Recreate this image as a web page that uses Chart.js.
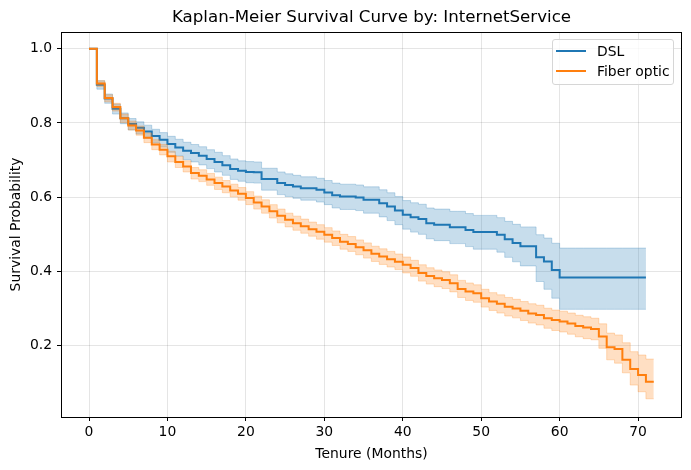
<!DOCTYPE html>
<html>
<head>
<meta charset="utf-8">
<script src="https://cdn.jsdelivr.net/npm/chart.js@4.4.1/dist/chart.umd.min.js"></script>
<style>
    body { margin: 0; background: #fff; }
    #wrap { position: relative; width: 691px; height: 470px; }
    #kmTitle {
        position: absolute; left: 61px; top: 7px; width: 621px; height: 20px; line-height: 20px;
        text-align: center; font-family: "DejaVu Sans", sans-serif; font-size: 16.67px; color: #000;
        white-space: nowrap;
    }
    #kmLegend {
        position: absolute; left: 552px; top: 39px; width: 122px; height: 46px;
        box-sizing: border-box; border: 1px solid #d6d6d6; border-radius: 3px;
        background: rgba(255, 255, 255, 0.8);
        font-family: "DejaVu Sans", sans-serif; font-size: 13.9px; color: #000;
    }
    .km-item { position: absolute; left: 3px; height: 20px; display: flex; align-items: center; white-space: nowrap; }
    .km-swatch { flex: none; display: block; width: 30px; height: 2px; margin-right: 11px; }
</style>
</head>
<body>
<div id="wrap">
    <canvas id="kmChart" width="691" height="470"></canvas>
    <div id="kmTitle"></div>
    <div id="kmLegend"></div>
</div>
<script>
const km_title = 'Kaplan-Meier Survival Curve by: InternetService';
const km_xLabel = 'Tenure (Months)';
const km_yLabel = 'Survival Probability';
const km_seriesNames = ['DSL', 'Fiber optic'];
const km_colors = ['#1f77b4', '#ff7f0e'];
const km_bandColors = ['rgba(31,119,180,0.25)', 'rgba(255,127,14,0.25)'];

const km_xTicks = [0, 10, 20, 30, 40, 50, 60, 70];
const km_yTicks = [0.2, 0.4, 0.6, 0.8, 1.0];

const km_months = [0, 1, 2, 3, 4, 5, 6, 7, 8, 9, 10, 11, 12, 13, 14, 15, 16, 17, 18, 19, 20,
    21, 22, 23, 24, 25, 26, 27, 28, 29, 30, 31, 32, 33, 34, 35, 36, 37, 38, 39, 40,
    41, 42, 43, 44, 45, 46, 47, 48, 49, 50, 51, 52, 53, 54, 55, 56, 57, 58, 59, 60,
    61, 62, 63, 64, 65, 66, 67, 68, 69, 70, 71, 72];

// DSL: months 0..71
const km_dsl = [1.0, 0.903, 0.866, 0.838, 0.813, 0.797, 0.787, 0.777, 0.765, 0.755,
    0.743, 0.734, 0.725, 0.719, 0.712, 0.703, 0.695, 0.686, 0.676, 0.671,
    0.668, 0.667, 0.649, 0.649, 0.638, 0.633, 0.629, 0.624, 0.624, 0.620,
    0.613, 0.605, 0.602, 0.602, 0.599, 0.593, 0.593, 0.584, 0.575, 0.564,
    0.553, 0.546, 0.541, 0.530, 0.526, 0.526, 0.519, 0.519, 0.512, 0.506,
    0.506, 0.506, 0.499, 0.487, 0.477, 0.468, 0.468, 0.438, 0.427, 0.404,
    0.384, 0.384, 0.384, 0.384, 0.384, 0.384, 0.384, 0.384, 0.384, 0.384,
    0.384, 0.384];
const km_dslLower = [1.0, 0.891, 0.853, 0.824, 0.798, 0.781, 0.770, 0.759, 0.746, 0.735,
    0.721, 0.711, 0.701, 0.695, 0.687, 0.677, 0.668, 0.659, 0.648, 0.643,
    0.639, 0.638, 0.619, 0.619, 0.607, 0.602, 0.597, 0.592, 0.592, 0.587,
    0.580, 0.571, 0.567, 0.567, 0.564, 0.557, 0.557, 0.547, 0.537, 0.526,
    0.514, 0.506, 0.500, 0.488, 0.483, 0.483, 0.475, 0.475, 0.467, 0.460,
    0.460, 0.460, 0.452, 0.438, 0.426, 0.415, 0.415, 0.373, 0.352, 0.328,
    0.298, 0.298, 0.298, 0.298, 0.298, 0.298, 0.298, 0.298, 0.298, 0.298,
    0.298, 0.298];
const km_dslUpper = [1.0, 0.914, 0.878, 0.851, 0.827, 0.812, 0.803, 0.794, 0.783, 0.774,
    0.764, 0.756, 0.748, 0.742, 0.736, 0.728, 0.721, 0.712, 0.703, 0.698,
    0.696, 0.695, 0.678, 0.678, 0.668, 0.663, 0.659, 0.655, 0.655, 0.651,
    0.645, 0.638, 0.635, 0.635, 0.633, 0.628, 0.628, 0.620, 0.612, 0.602,
    0.591, 0.585, 0.581, 0.571, 0.568, 0.568, 0.562, 0.562, 0.556, 0.551,
    0.551, 0.551, 0.545, 0.535, 0.527, 0.520, 0.520, 0.499, 0.490, 0.476,
    0.463, 0.463, 0.463, 0.463, 0.463, 0.463, 0.463, 0.463, 0.463, 0.463,
    0.463, 0.463];

// Fiber optic: months 0..72
const km_fiber = [1.0, 0.906, 0.867, 0.843, 0.813, 0.793, 0.780, 0.760, 0.742, 0.728,
    0.710, 0.695, 0.683, 0.665, 0.658, 0.648, 0.638, 0.629, 0.618, 0.609,
    0.598, 0.586, 0.575, 0.562, 0.550, 0.539, 0.530, 0.522, 0.514, 0.507,
    0.499, 0.490, 0.480, 0.474, 0.465, 0.457, 0.448, 0.440, 0.433, 0.426,
    0.418, 0.409, 0.396, 0.388, 0.382, 0.377, 0.368, 0.353, 0.346, 0.341,
    0.328, 0.319, 0.313, 0.305, 0.300, 0.294, 0.287, 0.283, 0.274, 0.269,
    0.265, 0.260, 0.253, 0.249, 0.245, 0.225, 0.196, 0.191, 0.162, 0.137,
    0.121, 0.103, 0.103];
const km_fiberLower = [1.0, 0.898, 0.857, 0.832, 0.801, 0.781, 0.767, 0.747, 0.728, 0.714,
    0.695, 0.680, 0.668, 0.649, 0.642, 0.632, 0.621, 0.612, 0.601, 0.592,
    0.580, 0.568, 0.557, 0.544, 0.531, 0.520, 0.511, 0.503, 0.495, 0.487,
    0.479, 0.470, 0.460, 0.454, 0.445, 0.436, 0.427, 0.419, 0.412, 0.405,
    0.396, 0.387, 0.374, 0.366, 0.359, 0.354, 0.345, 0.330, 0.322, 0.317,
    0.304, 0.295, 0.288, 0.280, 0.275, 0.268, 0.261, 0.256, 0.247, 0.241,
    0.237, 0.231, 0.224, 0.219, 0.216, 0.193, 0.162, 0.153, 0.127, 0.094,
    0.076, 0.057, 0.057];
const km_fiberUpper = [1.0, 0.914, 0.876, 0.853, 0.824, 0.805, 0.792, 0.773, 0.755, 0.742,
    0.724, 0.710, 0.698, 0.680, 0.674, 0.664, 0.654, 0.645, 0.635, 0.626,
    0.615, 0.603, 0.593, 0.580, 0.568, 0.557, 0.549, 0.541, 0.533, 0.526,
    0.518, 0.509, 0.500, 0.494, 0.485, 0.477, 0.468, 0.461, 0.454, 0.447,
    0.439, 0.430, 0.418, 0.410, 0.404, 0.399, 0.391, 0.376, 0.369, 0.364,
    0.352, 0.343, 0.337, 0.330, 0.325, 0.319, 0.313, 0.309, 0.301, 0.296,
    0.293, 0.288, 0.282, 0.278, 0.274, 0.259, 0.234, 0.229, 0.208, 0.184,
    0.175, 0.164, 0.164];

Chart.defaults.font.family = '"DejaVu Sans", sans-serif';
Chart.defaults.color = '#000';

function km_points(vals) {
    return vals.map((v, i) => ({ x: km_months[i], y: v }));
}

function km_lineSet(label, vals, color) {
    return {
        label: label, data: km_points(vals), borderColor: color, borderWidth: 2,
        stepped: true, pointRadius: 0, fill: false
    };
}

function km_bandSet(vals, band, fill) {
    return {
        label: '', data: km_points(vals), borderColor: band, backgroundColor: band,
        borderWidth: 1, stepped: true, pointRadius: 0, fill: fill
    };
}

// index 0 is drawn last (on top)
const km_datasets = [
    km_lineSet(km_seriesNames[1], km_fiber, km_colors[1]),
    km_bandSet(km_fiberUpper, km_bandColors[1], '+1'),
    km_bandSet(km_fiberLower, km_bandColors[1], false),
    km_lineSet(km_seriesNames[0], km_dsl, km_colors[0]),
    km_bandSet(km_dslUpper, km_bandColors[0], '+1'),
    km_bandSet(km_dslLower, km_bandColors[0], false)
];

const km_frame = {
    id: 'km_frame',
    afterDraw(chart) {
        const a = chart.chartArea;
        const ctx = chart.ctx;
        ctx.save();
        ctx.strokeStyle = '#000';
        ctx.lineWidth = 1;
        ctx.strokeRect(a.left + 0.5, a.top + 0.5, a.right - a.left - 1, a.bottom - a.top);
        ctx.restore();
    }
};

const km_gridColor = 'rgba(0,0,0,0.1)';

new Chart(document.getElementById('kmChart'), {
    type: 'line',
    data: { datasets: km_datasets },
    plugins: [km_frame],
    options: {
        responsive: false,
        animation: false,
        layout: { padding: { left: 0, right: 9, top: 32, bottom: 0 } },
        plugins: {
            legend: { display: false },
            tooltip: { enabled: false },
            title: { display: false }
        },
        scales: {
            x: {
                type: 'linear', min: -3.57, max: 75.6,
                afterBuildTicks: s => { s.ticks = km_xTicks.map(v => ({ value: v })); },
                afterFit: s => { s.height = 53; },
                ticks: { font: { size: 13.9 }, padding: 3, maxRotation: 0, autoSkip: false, callback: v => String(v) },
                grid: { color: km_gridColor, tickLength: 4, tickColor: '#000' },
                border: { display: false },
                title: { display: true, text: km_xLabel, font: { size: 13.9 }, padding: { top: 0, bottom: 7 } }
            },
            y: {
                min: 0.008, max: 1.045,
                afterBuildTicks: s => { s.ticks = km_yTicks.map(v => ({ value: v })); },
                afterFit: s => { s.width = 61; },
                ticks: { font: { size: 13.9 }, padding: 5, autoSkip: false, callback: v => v.toFixed(1) },
                grid: { color: km_gridColor, tickLength: 4, tickColor: '#000' },
                border: { display: false },
                title: { display: true, text: km_yLabel, font: { size: 13.9 }, padding: { top: 8, bottom: 4 } }
            }
        }
    }
});

document.getElementById('kmTitle').textContent = km_title;

// legend box inside the plot, upper right
const km_legendEl = document.getElementById('kmLegend');
km_seriesNames.forEach((name, i) => {
    const item = document.createElement('div');
    item.className = 'km-item';
    item.style.top = (1 + i * 20) + 'px';
    item.innerHTML = `<span class="km-swatch" style="background:${km_colors[i]}"></span><span>${name}</span>`;
    km_legendEl.appendChild(item);
});
</script>
</body>
</html>
